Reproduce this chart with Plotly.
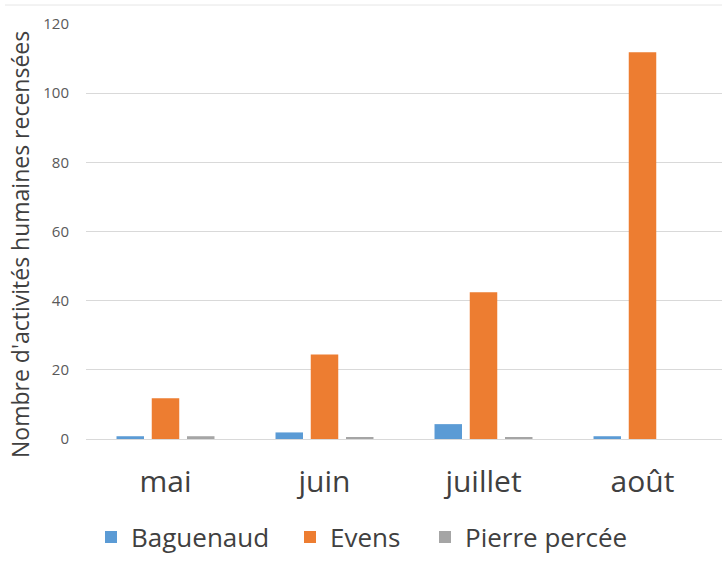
import plotly.graph_objects as go

months = ["mai", "juin", "juillet", "août"]
baguenaud = [0.8, 1.9, 4.3, 0.8]
evens = [11.8, 24.4, 42.4, 111.8]
pierre_percee = [0.8, 0.4, 0.4, 0.0]
y_ticks = [0, 20, 40, 60, 80, 100, 120]

series = [
    ("Baguenaud", baguenaud, "#5B9BD5", "legend", 91),
    ("Evens", evens, "#ED7D31", "legend2", 290),
    ("Pierre percée", pierre_percee, "#A5A5A5", "legend3", 425),
]

W, H = 724, 561
fig = go.Figure()
legend_layouts = {}
for name, vals, col, lg, lx in series:
    fig.add_trace(go.Bar(x=months, y=vals, name=name, legend=lg,
                         marker=dict(color=col, line=dict(width=0))))
    legend_layouts[lg] = dict(orientation="h", xref="container", yref="container",
                              x=lx / W, xanchor="left", y=1 - 537 / H, yanchor="middle",
                              font=dict(size=26, color="#404040"), itemwidth=30,
                              bgcolor="rgba(0,0,0,0)")

fig.update_layout(
    width=W, height=H,
    paper_bgcolor="white", plot_bgcolor="white",
    margin=dict(l=86, r=2, t=24, b=122),
    barmode="group", bargap=0.335, bargroupgap=0.22,
    font=dict(family="Open Sans, sans-serif", color="#404040"),
    xaxis=dict(tickfont=dict(size=30, color="#404040"), showline=True, linecolor="#D9D9D9",
               linewidth=1, ticks="", showgrid=False, automargin=False, ticklabelstandoff=16),
    yaxis=dict(range=[0, 120], tickvals=y_ticks, tickfont=dict(size=15, color="#595959"),
               gridcolor="#D9D9D9", gridwidth=1, zeroline=False, ticks="", ticklen=0,
               automargin=False, ticklabelstandoff=16),
    showlegend=True,
    **legend_layouts,
)
fig.add_annotation(text="Nombre d'activités humaines recensées", textangle=-90,
                   xref="paper", yref="paper", x=(20 - 86) / 636, y=(439 - 245) / 415,
                   xanchor="center", yanchor="middle", showarrow=False,
                   font=dict(size=23, color="#404040"))
fig.add_shape(type="line", xref="paper", yref="paper", x0=(5 - 86) / 636, x1=1.0,
              y0=(439 - 5) / 415, y1=(439 - 5) / 415,
              line=dict(color="#E6E6E6", width=1))

fig.write_html("out.html", config={"displayModeBar": False},
               post_script="document.body.style.margin='0';")
